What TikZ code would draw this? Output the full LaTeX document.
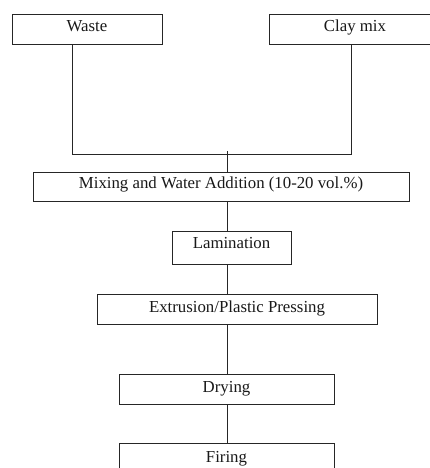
\documentclass[tikz,border=0pt]{standalone}
\usepackage{fontspec}
\setmainfont{Liberation Serif}
\begin{document}
\begin{tikzpicture}[x=1pt,y=-1pt,
  box/.style={draw=black!85,line width=1pt,inner sep=0pt,anchor=north,font=\fontsize{16.8}{20}\selectfont,text=black!90},
  link/.style={draw=black!85,line width=0.9pt}]
\useasboundingbox (0,0) rectangle (430,468);
\fill[white] (0,0) rectangle (430,468);
\node[box,minimum width=150pt,text height=17pt,text depth=13pt] (waste) at (87,14) {Waste};
\node[box,minimum width=172pt,text height=17pt,text depth=13pt] (clay) at (355,14) {Clay mix};
\node[box,minimum width=376pt,text height=16pt,text depth=13pt] (mix) at (221,172.3) {Mixing and Water Addition (10-20 vol.\%)};
\node[box,minimum width=119pt,text height=17pt,text depth=16pt] (lam) at (231.5,231) {Lamination};
\node[box,minimum width=280pt,text height=17.5pt,text depth=12.5pt] (ext) at (237,294) {Extrusion/Plastic Pressing};
\node[box,minimum width=215pt,text height=18pt,text depth=12pt] (dry) at (226.5,374) {Drying};
\node[box,minimum width=215pt,text height=18.5pt,text depth=11.5pt] (fire) at (226.5,443) {Firing};
\coordinate (jl) at (72,154);
\coordinate (jr) at (351,154);
\coordinate (jc) at (227,151);
\draw[link] (waste.south -| jl) -- (jl) -- (jr) -- (clay.south -| jr);
\draw[link] (jc) -- (mix.north -| jc);
\draw[link] (mix.south -| jc) -- (lam.north -| jc);
\draw[link] (lam.south -| jc) -- (ext.north -| jc);
\draw[link] (ext.south -| jc) -- (dry.north -| jc);
\draw[link] (dry.south -| jc) -- (fire.north -| jc);
\end{tikzpicture}
\end{document}
